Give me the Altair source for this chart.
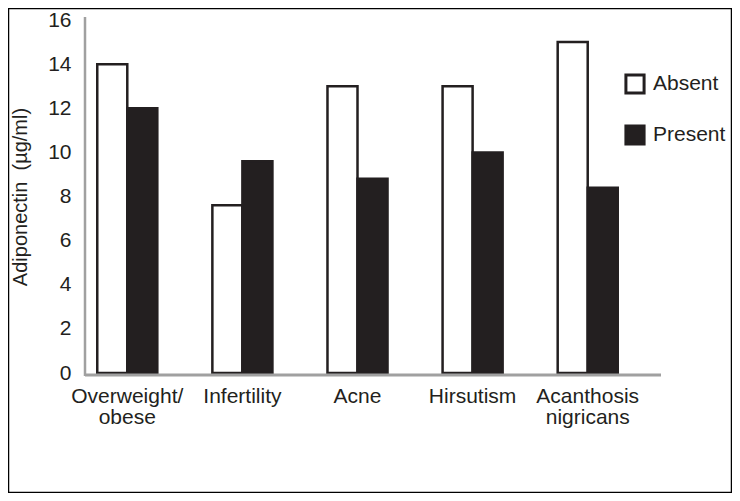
import altair as alt
import pandas as pd

# ---- data ----
categories = ["Overweight/obese", "Infertility", "Acne", "Hirsutism", "Acanthosis nigricans"]
groups = ["Absent", "Present"]
absent_vals = [14.0, 7.6, 13.0, 13.0, 15.0]
present_vals = [12.0, 9.6, 8.8, 10.0, 8.4]
y_ticks = [0, 2, 4, 6, 8, 10, 12, 14, 16]

rows = []
for c, a, p in zip(categories, absent_vals, present_vals):
    rows.append({"category": c, "status": "Absent", "value": a})
    rows.append({"category": c, "status": "Present", "value": p})
df = pd.DataFrame(rows)

INK = "#231f20"
AXIS_GRAY = "#a0a0a0"
FONT = "Liberation Sans"
FS = 21
W, H = 545, 353
one = pd.DataFrame({"k": [0]})

bars = alt.Chart(df).mark_bar(stroke=INK, strokeWidth=2.5, strokeJoin="miter").encode(
    x=alt.X(
        "category:N",
        sort=categories,
        scale=alt.Scale(paddingInner=0.4783, paddingOuter=0.1065),
        axis=alt.Axis(
            title=None, domain=False, ticks=False, labelAngle=0,
            labelFont=FONT, labelFontSize=FS, labelColor=INK,
            labelPadding=12, labelBaseline="top", labelLineHeight=21,
            labelExpr="datum.value == 'Overweight/obese' ? ['Overweight/', 'obese'] : split(datum.value, ' ')",
        ),
    ),
    xOffset=alt.XOffset("status:N", sort=groups,
                        scale=alt.Scale(paddingInner=0, paddingOuter=0)),
    y=alt.Y(
        "value:Q",
        scale=alt.Scale(domain=[0, 16], nice=False),
        axis=alt.Axis(
            values=y_ticks, title="Adiponectin\u00a0\u00a0(µg/ml)", domain=False, ticks=False,
            grid=False, labelFont=FONT, labelFontSize=FS, labelColor=INK,
            labelPadding=14, titleFont=FONT, titleFontSize=20, titleColor=INK,
            titleFontWeight="normal", titlePadding=17,
        ),
    ),
    fill=alt.Fill(
        "status:N",
        sort=groups,
        scale=alt.Scale(domain=groups, range=["#ffffff", INK]),
        legend=alt.Legend(
            title=None, orient="none", legendX=539, legendY=53,
            symbolType="square", symbolSize=330, symbolStrokeWidth=3,
            symbolStrokeColor=INK, labelFont=FONT, labelFontSize=FS,
            labelColor=INK, labelOffset=7, rowPadding=19, padding=0,
        ),
    ),
)

x_line = alt.Chart(one).mark_rule(color=AXIS_GRAY, strokeWidth=3).encode(
    x=alt.value(0), x2=alt.value(576), y=alt.value(H + 2)
)
y_line = alt.Chart(one).mark_rule(color=AXIS_GRAY, strokeWidth=2.5).encode(
    x=alt.value(0), y=alt.value(-3), y2=alt.value(H + 3)
)
frame = alt.Chart(one).mark_rect(fill=None, stroke="#000000", strokeWidth=1.5).encode(
    x=alt.value(-76.5), x2=alt.value(W + 101.5), y=alt.value(-11.5), y2=alt.value(H + 119.5)
)

chart = alt.layer(frame, bars, x_line, y_line).properties(
    width=W,
    height=H,
    autosize=alt.AutoSizeParams(type="none"),
    padding={"left": 77, "top": 12, "right": 102, "bottom": 120},
    background="#ffffff",
).configure_view(stroke=None)

chart.save("out.html", embed_options={"renderer": "svg", "actions": False})
